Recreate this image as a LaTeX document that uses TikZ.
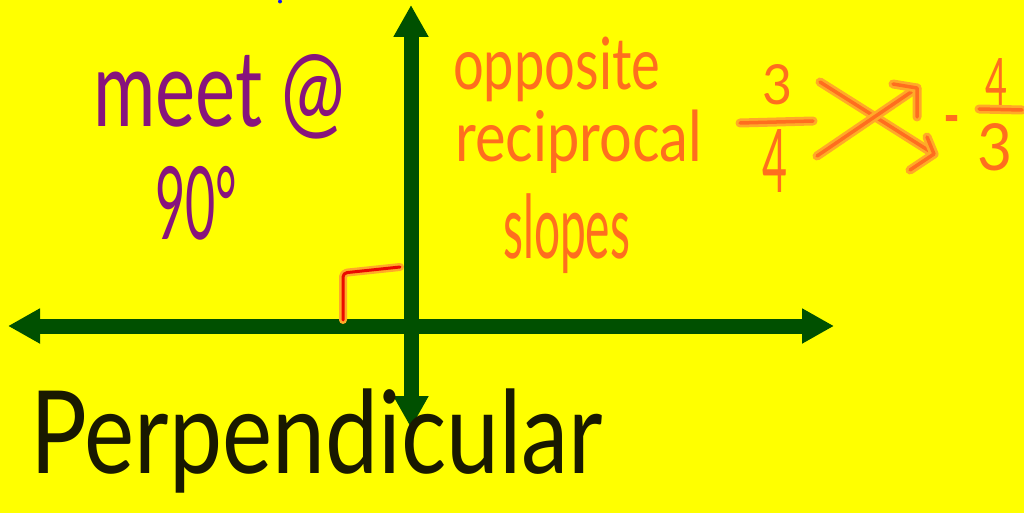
\documentclass[tikz,border=0pt]{standalone}
\usepackage{fontspec}
\setmainfont{Lato}
\newfontfamily\hand{Lato}
\usetikzlibrary{arrows.meta}
\definecolor{bg}{RGB}{255,255,0}
\definecolor{axisgreen}{RGB}{0,80,0}
\definecolor{purp}{RGB}{135,20,125}
\definecolor{orng}{RGB}{255,110,30}
\definecolor{ornghalo}{RGB}{255,170,40}
\definecolor{blk}{RGB}{25,25,0}
\definecolor{redline}{RGB}{235,10,0}
\definecolor{dotblue}{RGB}{20,20,240}
\newcommand\hwword[3]{% size, width, text
  \hand\fontsize{#1pt}{#1pt}\selectfont\resizebox{#2pt}{\height}{#3}}
\newcommand\hwbox[4]{% size, width, height, text
  \hand\fontsize{#1pt}{#1pt}\selectfont\resizebox{#2pt}{#3pt}{#4}}
\begin{document}
\begin{tikzpicture}[x=1pt,y=-1pt,
  axisline/.style={draw=axisgreen,line width=15pt,
    {Triangle[length=32pt,width=33pt]}-{Triangle[length=32pt,width=33pt]}},
  hw/.style={inner sep=0pt,anchor=base west},
  hwc/.style={inner sep=0pt,anchor=center},
  orangestroke/.style={draw=orng,line width=3.5pt,line cap=round,line join=round,
    preaction={draw=ornghalo,line width=9pt,line cap=round,line join=round}},
  redstroke/.style={draw=redline,line width=3pt,line cap=round,line join=round,
    rounded corners=4pt,
    preaction={draw=ornghalo,line width=8pt,line cap=round,line join=round,rounded corners=4pt}}]
\fill[bg] (0,0) rectangle (1024,513);
\useasboundingbox (0,0) rectangle (1024,513);
\fill[dotblue] (280,1.5) circle (2pt);

% axes
\coordinate (L) at (8,326);
\coordinate (R) at (834,326);
\coordinate (T) at (411,5);
\coordinate (B) at (411,428);
\draw[axisline] (L) -- (R);
\draw[axisline] (T) -- (B);

% right angle mark
\coordinate (ra1) at (343,320);
\coordinate (ra2) at (343,273);
\coordinate (ra3) at (400,267);
\draw[redstroke] (ra1) -- (ra2) -- (ra3);

% purple text
\node[hw,text=purp] (meet) at (93,127) {\hwword{106}{252}{meet @}};
\node[hw,text=purp] (ninety) at (155,239) {\hwword{101}{82}{90°}};

% orange text
\node[hw,text=orng] (opp) at (453,90) {\hwword{72}{207}{opposite}};
\node[hw,text=orng] (recip) at (455,162) {\hwword{70}{247}{reciprocal}};
\node[hw,text=orng] (slopes) at (503,258) {\hwword{88}{127}{slopes}};

% fraction 3/4
\node[hwc,text=orng] (n3) at (777,85) {\hwbox{60}{30}{40}{3}};
\node[hwc,text=orng] (d4) at (775,161) {\hwbox{80}{25}{63}{4}};
\coordinate (f1a) at (740,123);
\coordinate (f1b) at (813,121);
\draw[orangestroke] (f1a) -- (f1b);

% crossing arrows
\coordinate (c1s) at (820,82);
\coordinate (c1e) at (934,154);
\coordinate (c1h1) at (927,137);
\coordinate (c1h2) at (910,170);
\draw[orangestroke] (c1s) -- (c1e);
\draw[orangestroke] (c1h1) -- (c1e) -- (c1h2);
\coordinate (c2s) at (817,156);
\coordinate (c2e) at (917,88);
\coordinate (c2h1) at (893,84);
\coordinate (c2h2) at (917,117);
\draw[orangestroke] (c2s) -- (c2e);
\draw[orangestroke] (c2h1) -- (c2e) -- (c2h2);

% -4/3
\node[hwc,text=orng] (minus) at (952,129) {\hwword{80}{17}{-}};
\node[hwc,text=orng] (n4) at (996,82) {\hwbox{60}{22}{47}{4}};
\coordinate (f2a) at (979,109);
\coordinate (f2b) at (1022,110);
\draw[orangestroke] (f2a) -- (f2b);
\node[hwc,text=orng] (d3) at (995,147) {\hwbox{60}{35}{47}{3}};

% black text
\node[hw,text=blk] (perp) at (30,473) {\hwword{115}{573}{Perpendicular}};
\end{tikzpicture}
\end{document}
